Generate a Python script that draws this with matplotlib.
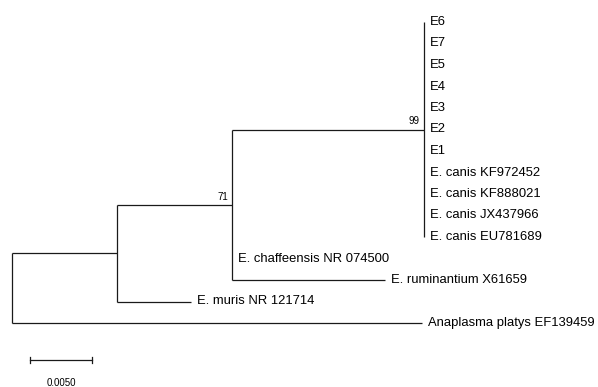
import matplotlib.pyplot as plt

plt.rcParams["font.family"] = ["Liberation Sans", "DejaVu Sans"]

# leaf names, top to bottom
leaves = ["E6", "E7", "E5", "E4", "E3", "E2", "E1",
          "E. canis KF972452", "E. canis KF888021", "E. canis JX437966",
          "E. canis EU781689", "E. chaffeensis NR 074500",
          "E. ruminantium X61659", "E. muris NR 121714",
          "Anaplasma platys EF139459"]

# branch lengths (substitutions per site)
bl_canis_clade = 0.01548
bl_chaff = 0.0
bl_rumin = 0.01234
bl_inner = 0.00927
bl_muris = 0.00597
bl_ehrlichia = 0.00847
bl_anaplasma = 0.0331

# bootstrap values
boot_canis = "99"
boot_inner = "71"

# tree: internal node = (list of (child, branch length), support label); leaf = index
canis_clade = ([(i, 0.0) for i in range(11)], boot_canis)
inner = ([(canis_clade, bl_canis_clade), (11, bl_chaff), (12, bl_rumin)], boot_inner)
ehrlichia = ([(inner, bl_inner), (13, bl_muris)], "")
tree = ([(ehrlichia, bl_ehrlichia), (14, bl_anaplasma)], "")

PX = 12400.0  # pixels per unit of distance
LW = 0.9
COL = "#1a1a1a"

fig = plt.figure(figsize=(5.98, 3.87), dpi=100)
ax = fig.add_axes([0, 0, 1, 1])
ax.set_xlim(-12 / PX, 586 / PX)
ax.set_ylim((387 - 22) / 21.5, -22 / 21.5)
ax.axis("off")


def draw(node, x0):
    if isinstance(node, int):
        ax.text(x0 + 6 / PX, node, leaves[node], fontsize=9.4, va="center", ha="left")
        return node
    children, support = node
    ys = []
    for child, bl in children:
        y = draw(child, x0 + bl)
        if bl > 0:
            ax.plot([x0, x0 + bl], [y, y], color=COL, lw=LW, solid_capstyle="butt")
        ys.append(y)
    ax.plot([x0, x0], [min(ys), max(ys)], color=COL, lw=LW, solid_capstyle="butt")
    ymid = (min(ys) + max(ys)) / 2
    if support:
        ax.text(x0 - 4 / PX, ymid - 0.15, support, fontsize=7, ha="right", va="bottom")
    return ymid


draw(tree, 0.0)

# scale bar
sb_y = (360 - 22) / 21.5
x_sb = 18 / PX
ax.plot([x_sb, x_sb + 0.005], [sb_y, sb_y], color=COL, lw=LW)
for xx in (x_sb, x_sb + 0.005):
    ax.plot([xx, xx], [sb_y - 0.15, sb_y + 0.15], color=COL, lw=LW)
ax.text(x_sb + 0.0025, (383 - 22) / 21.5, "0.0050", fontsize=7, ha="center", va="center")

fig.savefig("out.png", dpi=100)
